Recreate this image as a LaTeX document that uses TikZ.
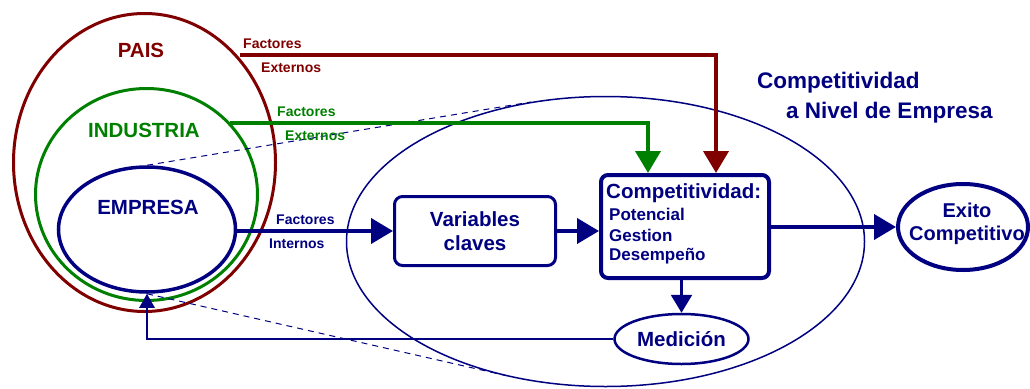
\documentclass[tikz,border=0pt]{standalone}
\usepackage{fontspec}
\setmainfont{Liberation Sans}
\usetikzlibrary{arrows.meta,shapes.geometric,calc}
\definecolor{dred}{HTML}{800000}
\definecolor{dgreen}{HTML}{008000}
\definecolor{navy}{HTML}{000080}
\tikzset{
  bigtxt/.style={font=\bfseries\fontsize{20.5}{24}\selectfont},
  subtxt/.style={font=\bfseries\fontsize{17}{21}\selectfont, inner sep=0pt, anchor=west, text=navy},
  smalltxt/.style={font=\bfseries\fontsize{14}{16}\selectfont, inner sep=0pt, anchor=west},
  ell/.style={draw, ellipse, inner sep=0pt},
  tipbig/.style={-{Triangle[length=22pt,width=25pt]}},
  tipmed/.style={-{Triangle[length=18pt,width=21pt]}},
  tipsmall/.style={-{Triangle[length=14pt,width=15pt]}},
  dashline/.style={draw=navy, line width=1pt, dash pattern=on 6pt off 5pt},
}
\begin{document}
\begin{tikzpicture}[x=1pt,y=-1pt]
\useasboundingbox (0,0) rectangle (1030,388);

% big ellipse
\node[ell, draw=navy, line width=1.5pt, minimum width=518pt, minimum height=290pt] (bigE) at (605.5,241.5) {};

% nested ellipses
\node[ell, draw=dred, line width=3pt, minimum width=262pt, minimum height=298pt] (pais) at (144.5,162.5) {};
\node[ell, draw=dgreen, line width=3pt, minimum width=222pt, minimum height=212pt] (ind) at (146.5,194.5) {};
\node[ell, draw=navy, line width=3.5pt, minimum width=177pt, minimum height=125pt] (emp) at (147,229.5) {};

% dashed projection lines
\coordinate (du) at (531,102);
\coordinate (dl) at (508,376);
\draw[dashline] (emp.north) -- (du);
\draw[dashline] (emp.south) -- (dl);

\node[bigtxt, text=dred] (tpais) at (141,50) {PAIS};
\node[bigtxt, text=dgreen] (tind) at (144,130) {INDUSTRIA};
\node[bigtxt, text=navy] (temp) at (148,207) {EMPRESA};

% boxes
\node[draw=navy, line width=3pt, rounded corners=8pt, minimum width=161pt, minimum height=69pt,
      bigtxt, text=navy, align=center] (var) at (475,231) {Variables\\claves};
\node[draw=navy, line width=4pt, rounded corners=7pt, minimum width=168pt, minimum height=103pt] (comp) at (685,226.5) {};
\node[bigtxt, text=navy, anchor=west, inner sep=0pt] (ctitle) at (606,193) {Competitividad:};
\node[subtxt] (c1) at (609,214) {Potencial};
\node[subtxt] (c2) at (609,235) {Gestion};
\node[subtxt] (c3) at (609,256) {Desempeño};

\node[ell, draw=navy, line width=4pt, minimum width=130pt, minimum height=86pt] (exito) at (963,227) {};
\node[font=\bfseries\fontsize{20}{23}\selectfont, text=navy, align=center] (texito) at (967,224) {Exito\\Competitivo};

\node[ell, draw=navy, line width=2.5pt, minimum width=134pt, minimum height=50pt, bigtxt, text=navy] (med) at (681.5,339) {Medición};

% title
\node[font=\bfseries\fontsize{22.5}{26}\selectfont, text=navy, anchor=west, inner sep=0pt] (t1) at (757,83) {Competitividad};
\node[font=\bfseries\fontsize{22.5}{26}\selectfont, text=navy, anchor=west, inner sep=0pt] (t2) at (786,113) {a Nivel de Empresa};

% external factors (country)
\coordinate (r0) at (240,55);
\coordinate (r1) at (716,55);
\draw[dred, line width=4pt, tipbig] (r0) -- (r1) -- (r1 |- comp.north);
\node[smalltxt, text=dred] (rf) at (243,44) {Factores};
\node[smalltxt, text=dred] (re) at (261,68) {Externos};

% external factors (industry)
\coordinate (g0) at (230,123);
\coordinate (g1) at (648,123);
\draw[dgreen, line width=4pt, tipbig] (g0) -- (g1) -- (g1 |- comp.north);
\node[smalltxt, text=dgreen] (gf) at (277,112) {Factores};
\node[smalltxt, text=dgreen] (ge) at (285,136) {Externos};

% internal factors
\draw[navy, line width=4pt, tipbig] (emp.east |- var.west) -- (var.west);
\node[smalltxt, text=navy] (bf) at (276,220) {Factores};
\node[smalltxt, text=navy] (bi) at (269,244) {Internos};

\draw[navy, line width=4pt, tipbig] (var.east) -- (var.east -| comp.west);
\draw[navy, line width=4pt, tipbig] (comp.east |- exito.west) -- (exito.west);
\draw[navy, line width=2.5pt, tipmed] (comp.south -| med.north) -- (med.north);
\draw[navy, line width=2.5pt, tipsmall] (med.west) -| (emp.south);
\end{tikzpicture}
\end{document}
